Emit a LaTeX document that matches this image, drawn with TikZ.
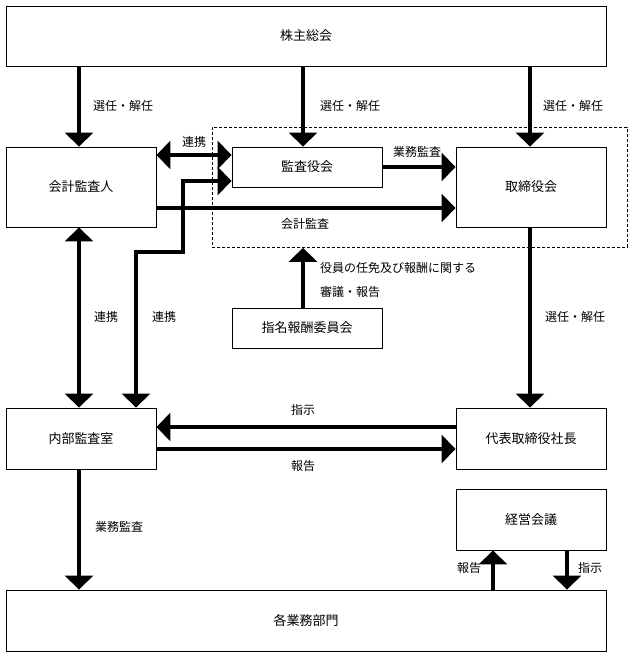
\documentclass[tikz,border=0pt]{standalone}
\usepackage{fontspec}
\setmainfont{Noto Sans CJK JP}
\usetikzlibrary{arrows.meta}
\begin{document}
\begin{tikzpicture}[x=1pt,y=-1pt,
  box/.style={draw, line width=0.9pt, minimum width=150pt, minimum height=80pt, inner sep=0pt, font=\fontsize{13}{15}\selectfont},
  arr/.style={line width=4.8pt, line join=miter, -{Triangle[width=28pt,length=14pt]}},
  darr/.style={line width=4.8pt, line join=miter, {Triangle[width=28pt,length=14pt]}-{Triangle[width=28pt,length=14pt]}},
  lbl/.style={font=\fontsize{12}{14}\selectfont, inner sep=0pt}]
\useasboundingbox[fill=white] (0,0) rectangle (633,656);

% boxes
\node[box, minimum width=600pt, minimum height=60pt] (sh) at (306,36) {株主総会};
\node[box] (kai) at (81,187) {会計監査人};
\node[box, minimum height=40pt] (kan) at (307,167) {監査役会};
\node[box] (tori) at (531,187) {取締役会};
\node[draw, dash pattern=on 3pt off 2pt, line width=0.9pt, minimum width=415pt, minimum height=120pt, inner sep=0pt, anchor=north west] (grp) at (212,127) {};
\node[box, minimum height=40pt] (shimei) at (307,328) {指名報酬委員会};
\node[box, minimum height=61pt] (naibu) at (81,438.5) {内部監査室};
\node[box, minimum height=61pt] (daihyo) at (531,438.5) {代表取締役社長};
\node[box, minimum height=61pt] (keiei) at (531,519.5) {経営会議};
\node[box, minimum width=600pt, minimum height=61pt] (kaku) at (306,620.5) {各業務部門};

% bend coordinates
\coordinate (b1) at (136,252);
\coordinate (b2) at (183,252);
\coordinate (b3) at (183,181);

% arrows from shareholders
\draw[arr] (sh.south -| 79,0) -- (kai.north -| 79,0);
\draw[arr] (sh.south -| 303,0) -- (kan.north -| 303,0);
\draw[arr] (sh.south -| 530,0) -- (tori.north -| 530,0);

% cooperation
\draw[darr] (kai.east |- 0,155) -- (kan.west |- 0,155);
\draw[darr] (naibu.north -| b1) -- (b1) -- (b2) -- (b3) -- (kan.west |- b3);
\draw[darr] (kai.south -| 79,0) -- (naibu.north -| 79,0);

% audits
\draw[arr] (kan.east |- 0,167) -- (tori.west |- 0,167);
\draw[arr] (kai.east |- 0,208) -- (tori.west |- 0,208);

% nomination committee
\draw[arr] (shimei.north -| 303,0) -- (grp.south -| 303,0);

% board to president
\draw[arr] (tori.south -| 530,0) -- (daihyo.north -| 530,0);

% instruction / report
\draw[arr] (daihyo.west |- 0,427) -- (naibu.east |- 0,427);
\draw[arr] (naibu.east |- 0,449) -- (daihyo.west |- 0,449);

% internal audit to departments
\draw[arr] (naibu.south -| 79,0) -- (kaku.north -| 79,0);

% management meeting
\draw[arr] (kaku.north -| 493,0) -- (keiei.south -| 493,0);
\draw[arr] (keiei.south -| 567,0) -- (kaku.north -| 567,0);

% labels
\node[lbl, anchor=west] (l1) at (93,106) {選任・解任};
\node[lbl, anchor=west] (l2) at (320,106) {選任・解任};
\node[lbl, anchor=west] (l3) at (543,106) {選任・解任};
\node[lbl] (l4) at (194,142) {連携};
\node[lbl] (l5) at (417,152) {業務監査};
\node[lbl] (l6) at (305,224) {会計監査};
\node[lbl, anchor=west] (l7) at (320,268) {役員の任免及び報酬に関する};
\node[lbl, anchor=west] (l8) at (320,292) {審議・報告};
\node[lbl] (l9) at (106,317) {連携};
\node[lbl] (l10) at (164,317) {連携};
\node[lbl, anchor=west] (l11) at (545,317) {選任・解任};
\node[lbl] (l12) at (303,410) {指示};
\node[lbl] (l13) at (303,466) {報告};
\node[lbl, anchor=west] (l14) at (95,527) {業務監査};
\node[lbl] (l15) at (469,568) {報告};
\node[lbl] (l16) at (590,568) {指示};
\end{tikzpicture}
\end{document}
